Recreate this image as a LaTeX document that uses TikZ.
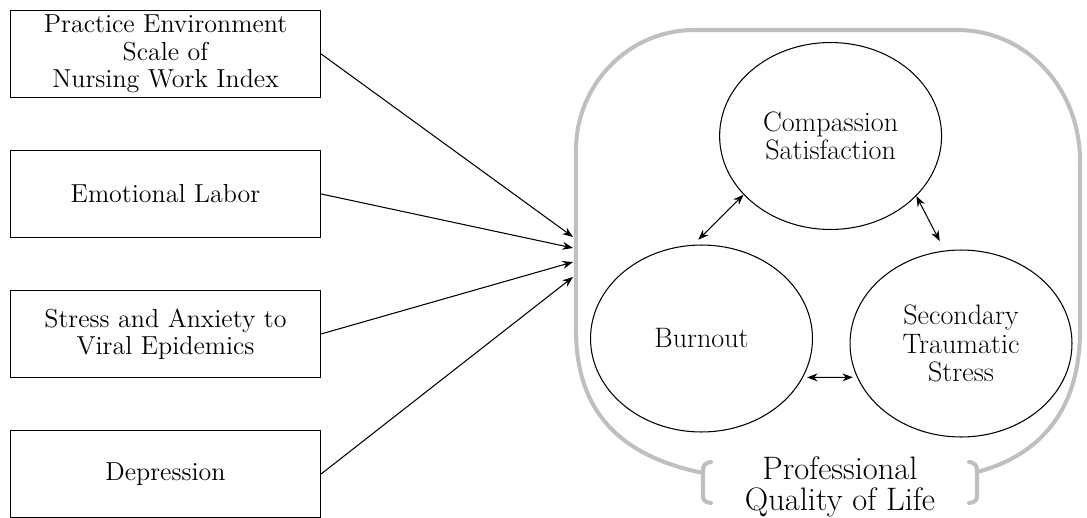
\documentclass[tikz,border=0pt]{standalone}
\usetikzlibrary{arrows.meta,shapes.geometric}

\begin{document}
\begin{tikzpicture}[x=0.02cm,y=-0.02cm,>={Stealth[length=6pt,width=4.5pt]},node distance=2.8cm,
  factor/.style={rectangle,draw,line width=0.8pt,minimum width=6.2cm,minimum height=1.74cm,inner sep=0pt,align=center,font=\fontsize{14.8}{15.5}\selectfont},
  facet/.style={ellipse,draw,line width=0.6pt,minimum width=4.44cm,minimum height=3.74cm,inner sep=0pt,align=center,font=\fontsize{16}{16.3}\selectfont},
  frame/.style={draw=black!25,line width=2.3pt,line cap=round}]
            \useasboundingbox (0,0) rectangle (1087,517);

            % factors
            \node[factor] (pe) at (165.5,54) {Practice Environment\\Scale of\\Nursing Work Index};
            \node[factor] (el) [below of = pe] {Emotional Labor};
            \node[factor] (sa) [below of = el] {Stress and Anxiety to\\Viral Epidemics};
            \node[factor] (dp) [below of = sa] {Depression};

            % professional quality of life
            \node[facet] (cs) at (830.6,136) {Compassion\\Satisfaction};
            \node[facet] (bo) at (701.5,338.5) {Burnout};
            \node[facet] (sts) at (961,343.5) {Secondary\\Traumatic\\Stress};
            \node[align=center,inner sep=0pt,font=\fontsize{18.5}{17.6}\selectfont] (pq) at (840,486.5) {Professional\\Quality of Life};

            \draw[frame] (703,473) .. controls (630,458) and (576,420) .. (576,330)
                -- (576,150) .. controls (576,84) and (629,30) .. (694,30)
                -- (957,30) .. controls (1027,30) and (1080,89) .. (1080,161)
                -- (1080,330) .. controls (1080,420) and (1030,458) .. (977,472);
            \draw[frame] (711,462) .. controls (704,463) and (703,466) .. (703,472)
                -- (703,495) .. controls (703,500) and (704,502) .. (711,503);
            \draw[frame] (969,462) .. controls (976,463) and (977,466) .. (977,472)
                -- (977,495) .. controls (977,500) and (976,502) .. (969,503);

            \coordinate (t1) at (573,237);
            \coordinate (t2) at (573,248);
            \coordinate (t3) at (573,262);
            \coordinate (t4) at (573,277);

            \draw[->,line width=0.6pt] (pe.east) -- (t1);
            \draw[->,line width=0.6pt] (el.east) -- (t2);
            \draw[->,line width=0.6pt] (sa.east) -- (t3);
            \draw[->,line width=0.6pt] (dp.east) -- (t4);

            \draw[<->,line width=0.6pt,shorten >=4pt] (cs.214) -- (bo.95);
            \draw[<->,line width=0.6pt,shorten >=6pt] (cs.-35) -- (sts.100);
            \draw[<->,line width=0.6pt,shorten >=2.3pt,shorten <=2.3pt] (bo.-21) -- (sts.198);
\end{tikzpicture}
\end{document}
